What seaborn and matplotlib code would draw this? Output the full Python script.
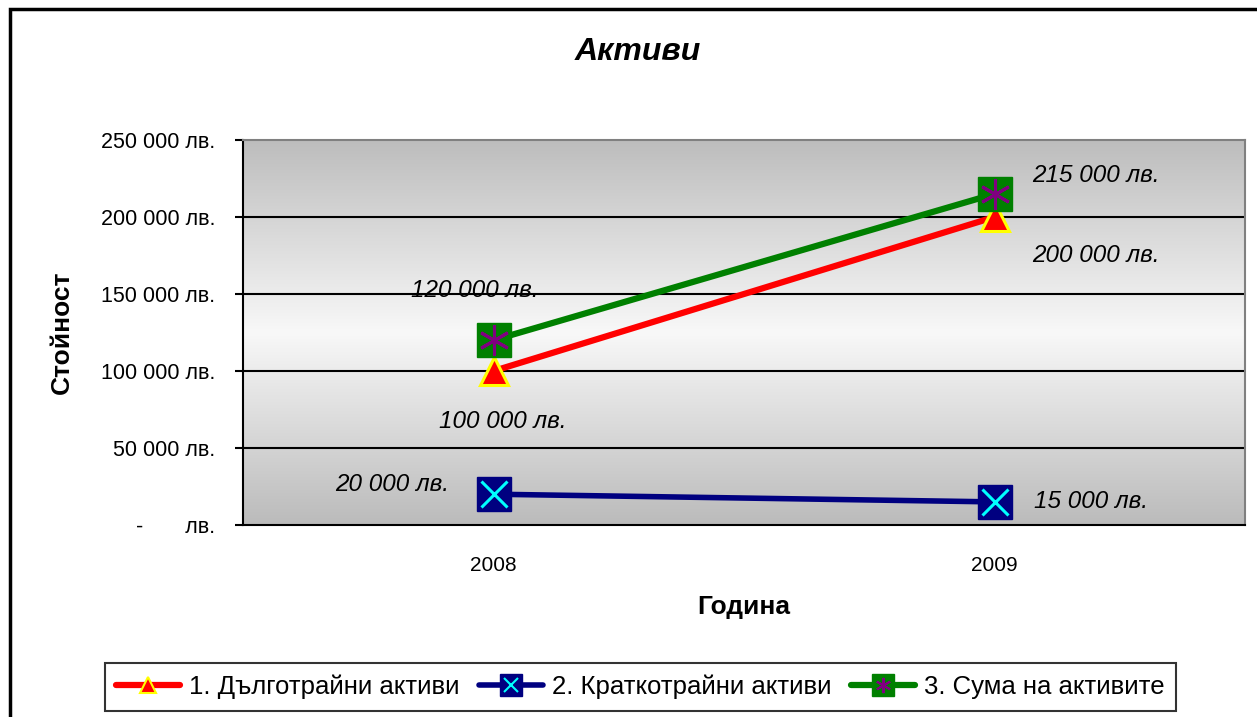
import numpy as np
import pandas as pd
import matplotlib
matplotlib.use("Agg")
import matplotlib.pyplot as plt
import seaborn as sns
from matplotlib.lines import Line2D
from matplotlib.legend_handler import HandlerTuple
from matplotlib.patches import Rectangle
from matplotlib.colors import LinearSegmentedColormap

years = ["2008", "2009"]
long_term = [100000, 200000]
short_term = [20000, 15000]
total = [120000, 215000]
series_names = ["1. Дълготрайни активи", "2. Краткотрайни активи", "3. Сума на активите"]
title = "Активи"
xlabel = "Година"
ylabel = "Стойност"
yticks = [0, 50000, 100000, 150000, 200000, 250000]

sns.set_theme(style="white")
plt.rcParams["font.family"] = ["Liberation Sans", "DejaVu Sans"]
plt.rcParams["text.color"] = "black"
plt.rcParams["axes.labelcolor"] = "black"
plt.rcParams["xtick.color"] = "black"
plt.rcParams["ytick.color"] = "black"

W, H = 1257, 717
fig = plt.figure(figsize=(W / 100, H / 100), dpi=100)
fig.patch.set_facecolor("white")
ax = fig.add_axes([243 / W, 1 - 525 / H, (1245 - 243) / W, (525 - 140) / H])

# gradient background
cmap = LinearSegmentedColormap.from_list("g", ["#bbbbbb", "#f8f8f8", "#bdbdbd"])
grad = np.linspace(0, 1, 256).reshape(-1, 1)
ax.imshow(grad, extent=[-0.5, 1.5, 0, 250000], aspect="auto", cmap=cmap,
          zorder=0, origin="lower")

x = np.arange(len(years))
df = pd.DataFrame({
    "x": np.concatenate([x, x, x]),
    "value": long_term + short_term + total,
    "series": [series_names[0]] * 2 + [series_names[1]] * 2 + [series_names[2]] * 2,
})
colors = {series_names[0]: "#ff0000", series_names[1]: "#000080", series_names[2]: "#008000"}
lws = {series_names[0]: 4.5, series_names[1]: 4.0, series_names[2]: 4.5}
order_draw = [series_names[1], series_names[0], series_names[2]]
for s in order_draw:
    sub = df[df.series == s]
    sns.lineplot(data=sub, x="x", y="value", color=colors[s], lw=lws[s], ax=ax,
                 legend=False, zorder=3)

# markers
sub = df[df.series == series_names[1]]
ax.plot(sub.x, sub.value, ls="none", marker="s", ms=24, mfc="#000080", mec="#000080", zorder=4)
ax.plot(sub.x, sub.value, ls="none", marker="x", ms=19, mec="#00ffff", mew=2.2, zorder=5)
sub = df[df.series == series_names[0]]
ax.plot(sub.x, sub.value, ls="none", marker="^", ms=20, mfc="#ff0000", mec="#ffff00", mew=2.2, zorder=4)
sub = df[df.series == series_names[2]]
ax.plot(sub.x, sub.value, ls="none", marker="s", ms=24, mfc="#008000", mec="#008000", zorder=6)
ax.plot(sub.x, sub.value, ls="none", marker=(6, 2, 0), ms=22, mec="#800080", mew=2.2, zorder=7)

ax.set_xlim(-0.5, 1.5)
ax.set_ylim(0, 250000)
ax.set_yticks(yticks)
def fmt(v):
    if v == 0:
        return "-       лв."
    return f"{v:,.0f}".replace(",", " ") + " лв."
ax.set_yticklabels([fmt(v) for v in yticks], fontsize=15.5)
ax.set_xticks(x)
ax.set_xticklabels(years, fontsize=15)
ax.set_xticks([-0.5, 0.5, 1.5], minor=True)
ax.tick_params(axis="x", which="major", length=0, pad=22)
ax.tick_params(axis="x", which="minor", length=7, width=1.5, color="black", direction="out")
ax.tick_params(axis="y", which="major", length=6, width=1.5, color="black", direction="out", pad=14, left=True)
for v in yticks[1:-1]:
    ax.axhline(v, color="black", lw=1.5, zorder=1)

for side in ["left", "bottom"]:
    ax.spines[side].set_color("black")
    ax.spines[side].set_linewidth(1.5)
for side in ["top", "right"]:
    ax.spines[side].set_color("#808080")
    ax.spines[side].set_linewidth(1.5)
ax.grid(False)

ax.set_xlabel(xlabel, fontsize=19, fontweight="bold", labelpad=15)
ax.set_ylabel(ylabel, fontsize=19, fontweight="bold", labelpad=19)
fig.text(638 / W, 1 - 52 / H, title, fontsize=23, fontweight="bold", style="italic",
         ha="center", va="center")

def lab(v):
    return f"{v:,.0f}".replace(",", " ") + " лв."
ann = [
    (0, total[0], -19, 50),
    (0, long_term[0], 9, -51),
    (0, short_term[0], -101, 10),
    (1, total[1], 101, 18),
    (1, long_term[1], 101, -39),
    (1, short_term[1], 96, 0),
]
for xi, v, dx, dy in ann:
    ax.annotate(lab(v), (xi, v), xytext=(dx, dy), textcoords="offset pixels",
                ha="center", va="center", fontsize=17.5, style="italic", zorder=8)

# legend
h1 = Line2D([], [], color="#ff0000", lw=4.5, marker="^", ms=12, mfc="#ff0000", mec="#ffff00", mew=1.5)
h2a = Line2D([], [], color="#000080", lw=4, marker="s", ms=16, mfc="#000080", mec="#000080")
h2b = Line2D([], [], ls="none", marker="x", ms=10, mec="#00ffff", mew=1.5)
h3a = Line2D([], [], color="#008000", lw=4.5, marker="s", ms=16, mfc="#008000", mec="#008000")
h3b = Line2D([], [], ls="none", marker=(6, 2, 0), ms=11, mec="#800080", mew=1.5)
leg = fig.legend([h1, (h2a, h2b), (h3a, h3b)], series_names,
                 handler_map={tuple: HandlerTuple(ndivide=1)},
                 loc="center", bbox_to_anchor=((93 + 1188) / 2 / W, 1 - 687 / H),
                 ncol=3, fontsize=18.5, frameon=True, fancybox=False, edgecolor="black",
                 handlelength=2.5, handletextpad=0.35, columnspacing=0.75, borderpad=0.45,
                 borderaxespad=0)
leg.get_frame().set_linewidth(1.5)

fig.patches.append(Rectangle((10 / W, -0.1), 1.2, 1 - 9 / H + 0.1, transform=fig.transFigure,
                             fill=False, edgecolor="black", lw=2.5, zorder=10))

fig.savefig("out.png", dpi=100)
